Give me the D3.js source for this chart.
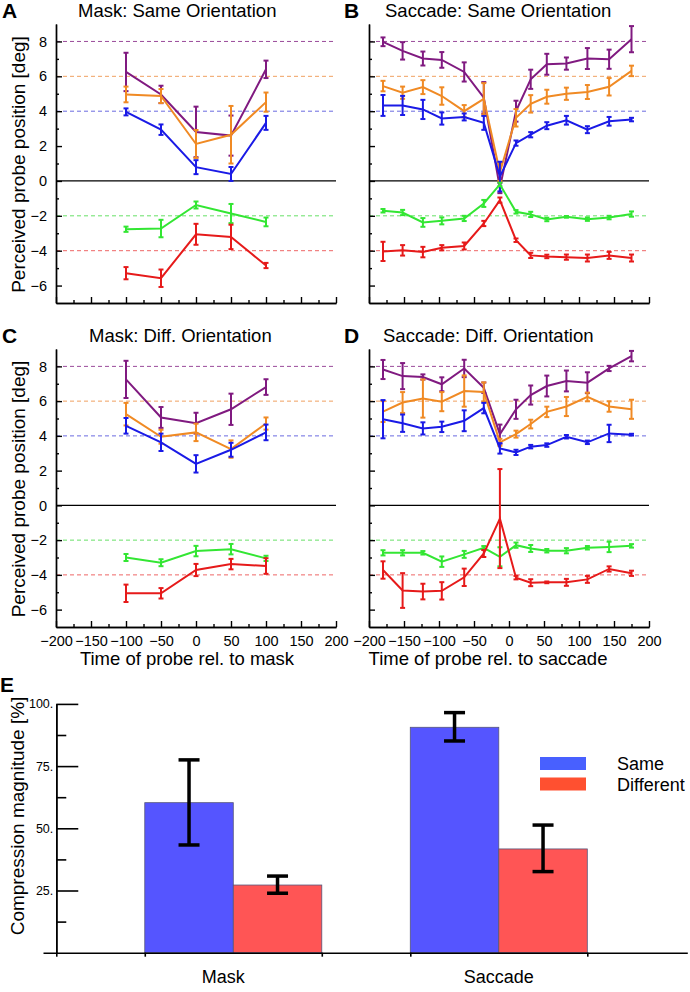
<!DOCTYPE html>
<html>
<head>
<meta charset="utf-8">
<script src="https://cdn.jsdelivr.net/npm/d3@7"></script>
<style>
body { margin: 0; background: #fff; }
svg { font-family: "Liberation Sans", Arial, Helvetica, sans-serif; }
</style>
</head>
<body>
<script>

// probe times (ms)
var maskTimes = [-100, -50, 0, 50, 100];
var saccTimes = [-180, -152, -123, -96, -64, -36, -13, 10, 31, 54, 82, 112, 143, 175];

// probe targets: purple, orange, blue, green, red
var probeTargets = [8, 6, 4, -2, -4];
var lineColors = ["#801a80", "#f08a24", "#1a1ae6", "#33e633", "#e61a1a"];
var dashColors = ["#9a4a9a", "#f0a060", "#6a6ae0", "#66e066", "#ee6666"];

// A: mask, same orientation
var maskSameMean = [
  [6.25, 4.96, 2.81, 2.6, 6.4],
  [4.96, 4.87, 2.12, 2.65, 4.52],
  [3.96, 2.94, 0.79, 0.4, 3.33],
  [-2.77, -2.73, -1.38, -1.87, -2.35],
  [-5.29, -5.58, -3.06, -3.21, -4.85]
];
var maskSameErr = [
  [1.1, 0.5, 1.45, 1.15, 0.5],
  [0.45, 0.4, 0.8, 1.65, 0.55],
  [0.2, 0.3, 0.4, 0.4, 0.4],
  [0.15, 0.5, 0.2, 0.55, 0.25],
  [0.35, 0.5, 0.6, 0.7, 0.15]
];

// B: saccade, same orientation
var saccSameMean = [
  [7.98, 7.46, 7.02, 6.94, 6.25, 4.77, -0.4, 4.0, 5.83, 6.69, 6.73, 7.02, 6.98, 8.13],
  [5.44, 5.06, 5.38, 4.87, 4.0, 4.71, 0.5, 3.62, 4.42, 4.83, 5.0, 5.1, 5.4, 6.31],
  [4.33, 4.33, 4.1, 3.58, 3.67, 3.33, 0.25, 2.17, 2.65, 3.17, 3.48, 2.94, 3.42, 3.52],
  [-1.71, -1.81, -2.38, -2.29, -2.15, -1.29, -0.2, -1.77, -1.92, -2.21, -2.06, -2.19, -2.1, -1.9],
  [-4.04, -3.98, -4.08, -3.83, -3.73, -2.44, -1.1, -3.4, -4.27, -4.33, -4.37, -4.42, -4.27, -4.42]
];
var saccSameErr = [
  [0.25, 0.5, 0.4, 0.45, 0.55, 0.9, 0.3, 0.6, 0.55, 0.6, 0.35, 0.6, 0.55, 0.75],
  [0.3, 0.35, 0.4, 0.5, 0.35, 0.9, 0.5, 0.5, 0.5, 0.4, 0.35, 0.4, 0.5, 0.3],
  [0.6, 0.55, 0.55, 0.35, 0.2, 0.4, 0.85, 0.15, 0.15, 0.2, 0.25, 0.2, 0.25, 0.1],
  [0.1, 0.15, 0.25, 0.2, 0.15, 0.2, 0.1, 0.1, 0.15, 0.1, 0.05, 0.1, 0.1, 0.15],
  [0.55, 0.3, 0.3, 0.15, 0.2, 0.15, 0.15, 0.1, 0.15, 0.1, 0.15, 0.2, 0.2, 0.2]
];

// C: mask, different orientation
var maskDiffMean = [
  [7.25, 5.06, 4.73, 5.53, 6.81],
  [5.25, 3.95, 4.2, 3.24, 4.71],
  [4.58, 3.63, 2.39, 3.2, 4.2],
  [-3.0, -3.3, -2.63, -2.52, -3.05],
  [-5.06, -5.06, -3.72, -3.38, -3.49]
];
var maskDiffErr = [
  [1.07, 0.6, 0.6, 0.9, 0.45],
  [0.65, 0.4, 0.5, 0.5, 0.35],
  [0.45, 0.5, 0.5, 0.4, 0.45],
  [0.2, 0.2, 0.3, 0.3, 0.15],
  [0.5, 0.3, 0.35, 0.3, 0.45]
];

// D: saccade, different orientation
var saccDiffMean = [
  [7.82, 7.44, 7.39, 6.97, 7.88, 6.77, 4.1, 5.53, 6.35, 6.87, 7.16, 7.06, 7.88, 8.59],
  [5.4, 5.92, 6.15, 5.97, 6.58, 6.53, 3.63, 4.1, 4.68, 5.38, 5.69, 6.24, 5.69, 5.53],
  [4.96, 4.73, 4.43, 4.52, 4.87, 5.6, 3.28, 3.05, 3.38, 3.47, 3.95, 3.63, 4.14, 4.07],
  [-2.73, -2.73, -2.73, -3.24, -2.82, -2.44, -2.96, -2.29, -2.48, -2.61, -2.61, -2.44, -2.39, -2.33],
  [-3.72, -4.9, -4.96, -4.92, -4.14, -2.77, -0.76, -4.16, -4.45, -4.43, -4.43, -4.26, -3.66, -3.91]
];
var saccDiffErr = [
  [0.55, 0.75, 0.15, 0.4, 0.5, 0.3, 0.55, 0.55, 0.55, 0.6, 0.6, 0.6, 0.15, 0.3],
  [0.6, 0.6, 1.1, 0.55, 0.9, 0.55, 0.2, 0.2, 0.25, 0.3, 0.55, 0.25, 0.3, 0.55],
  [1.1, 0.5, 0.35, 0.3, 0.6, 0.3, 0.3, 0.15, 0.1, 0.1, 0.1, 0.1, 0.5, 0.05],
  [0.15, 0.15, 0.1, 0.3, 0.2, 0.1, 0.55, 0.15, 0.2, 0.1, 0.15, 0.1, 0.3, 0.1],
  [0.5, 1.0, 0.45, 0.5, 0.5, 0.2, 2.85, 0.1, 0.2, 0.05, 0.2, 0.2, 0.15, 0.15]
];

// E: compression magnitude
var groups = ["Mask", "Saccade"];
var sameVals = [60.3, 90.6];
var sameLo = [43.3, 85.1];
var sameHi = [77.5, 96.5];
var diffVals = [27.2, 41.7];
var diffLo = [23.9, 32.6];
var diffHi = [30.8, 51.3];

var w = 690;
var h = 992;

var svg = d3.select("body")
  .append("svg")
  .attr("width", w)
  .attr("height", h);

function drawPanel(p) {
  var x = d3.scaleLinear().domain([-200, 200]).range([p.left, p.right]);
  var y = d3.scaleLinear().domain([-7, 9]).range([p.bottom, p.top]);
  var g = svg.append("g");

  // dashed target lines
  g.selectAll(null)
    .data(probeTargets)
    .enter()
    .append("line")
    .attr("x1", p.left).attr("x2", p.right)
    .attr("y1", function(d) { return y(d); })
    .attr("y2", function(d) { return y(d); })
    .attr("stroke", function(d, i) { return dashColors[i]; })
    .attr("stroke-width", 1)
    .attr("stroke-dasharray", "4,3");

  // zero line
  g.append("line")
    .attr("x1", p.left).attr("x2", p.right)
    .attr("y1", y(0)).attr("y2", y(0))
    .attr("stroke", "#000").attr("stroke-width", 1.2);

  var line = d3.line()
    .x(function(d, i) { return x(p.times[i]); })
    .y(function(d) { return y(d); });

  p.means.forEach(function(m, k) {
    g.append("path")
      .datum(m)
      .attr("d", line)
      .attr("fill", "none")
      .attr("stroke", lineColors[k])
      .attr("stroke-width", 2);

    var eb = g.append("g").attr("stroke", lineColors[k]).attr("stroke-width", 2);
    m.forEach(function(v, i) {
      var e = p.errs[k][i];
      var cx = x(p.times[i]);
      eb.append("line").attr("x1", cx).attr("x2", cx).attr("y1", y(v - e)).attr("y2", y(v + e));
      eb.append("line").attr("x1", cx - 2.5).attr("x2", cx + 2.5).attr("y1", y(v - e)).attr("y2", y(v - e));
      eb.append("line").attr("x1", cx - 2.5).attr("x2", cx + 2.5).attr("y1", y(v + e)).attr("y2", y(v + e));
    });
  });

  // axes
  var yAxis = d3.axisLeft(y)
    .tickValues([-6, -4, -2, 0, 2, 4, 6, 8])
    .tickSizeInner(-6).tickSizeOuter(0).tickPadding(9)
    .tickFormat(p.yLabels ? d3.format("d") : "");
  var yMinor = d3.axisLeft(y)
    .tickValues([-5, -3, -1, 1, 3, 5, 7])
    .tickSizeInner(-3).tickSizeOuter(0).tickFormat("");
  var xAxis = d3.axisBottom(x)
    .tickValues([-200, -150, -100, -50, 0, 50, 100, 150, 200])
    .tickSizeInner(-6).tickSizeOuter(0).tickPadding(9)
    .tickFormat(p.xLabels ? d3.format("d") : "");
  var xMinor = d3.axisBottom(x)
    .tickValues([-175, -125, -75, -25, 25, 75, 125, 175])
    .tickSizeInner(-3).tickSizeOuter(0).tickFormat("");

  [[yAxis, "left"], [yMinor, "left"], [xAxis, "bottom"], [xMinor, "bottom"]].forEach(function(a) {
    var ag = g.append("g")
      .attr("transform", a[1] == "left" ? "translate(" + p.left + ",0)" : "translate(0," + p.bottom + ")")
      .call(a[0]);
    ag.selectAll("path, line").attr("stroke", "#000").attr("stroke-width", 1.4);
    ag.selectAll("text").attr("font-size", 14.5).attr("font-family", null).attr("fill", "#000");
    ag.attr("font-family", null);
  });

  // titles
  g.append("text")
    .attr("x", p.titleX).attr("y", p.top - 7)
    .attr("font-size", 18.5)
    .text(p.title);
  g.append("text")
    .attr("x", p.letterX).attr("y", p.top - 6)
    .attr("font-size", 21).attr("font-weight", "bold")
    .text(p.letter);

  if (p.yTitle) {
    g.append("text")
      .attr("transform", "translate(25," + ((p.top + p.bottom) / 2 + 1) + ") rotate(-90)")
      .attr("text-anchor", "middle")
      .attr("font-size", 19)
      .text("Perceived probe position [deg]");
  }
  if (p.xTitle) {
    g.append("text")
      .attr("x", p.xTitleX).attr("y", p.bottom + 38)
      .attr("text-anchor", "middle")
      .attr("font-size", 18.5)
      .text(p.xTitle);
  }
}

drawPanel({ left: 56, right: 336, top: 24, bottom: 303, times: maskTimes,
  means: maskSameMean, errs: maskSameErr, yLabels: true, xLabels: false,
  title: "Mask: Same Orientation", titleX: 78, letter: "A", letterX: 2, yTitle: true });
drawPanel({ left: 369, right: 649, top: 24, bottom: 303, times: saccTimes,
  means: saccSameMean, errs: saccSameErr, yLabels: false, xLabels: false,
  title: "Saccade: Same Orientation", titleX: 385, letter: "B", letterX: 344 });
drawPanel({ left: 56, right: 336, top: 349, bottom: 627, times: maskTimes,
  means: maskDiffMean, errs: maskDiffErr, yLabels: true, xLabels: true,
  title: "Mask: Diff. Orientation", titleX: 89, letter: "C", letterX: 2, yTitle: true,
  xTitle: "Time of probe rel. to mask", xTitleX: 187 });
drawPanel({ left: 369, right: 649, top: 349, bottom: 627, times: saccTimes,
  means: saccDiffMean, errs: saccDiffErr, yLabels: false, xLabels: true,
  title: "Saccade: Diff. Orientation", titleX: 383, letter: "D", letterX: 344,
  xTitle: "Time of probe rel. to saccade", xTitleX: 488 });

// panel E: bars
var xE = d3.scaleLinear().domain([-0.15, 7.13]).range([43, 687.3]);
var yE = d3.scaleLinear().domain([0, 100]).range([952.7, 703.9]);
var eg = svg.append("g");

var bars = [];
groups.forEach(function(gname, i) {
  var base = 1 + i * 3;
  bars.push({ x0: base, v: sameVals[i], lo: sameLo[i], hi: sameHi[i], fill: "#5555ff" });
  bars.push({ x0: base + 1, v: diffVals[i], lo: diffLo[i], hi: diffHi[i], fill: "#ff5555" });
});

eg.selectAll("rect.bar")
  .data(bars)
  .enter()
  .append("rect")
  .attr("class", "bar")
  .attr("x", function(d) { return xE(d.x0); })
  .attr("width", function(d) { return xE(d.x0 + 1) - xE(d.x0); })
  .attr("y", function(d) { return yE(d.v); })
  .attr("height", function(d) { return yE(0) - yE(d.v); })
  .attr("fill", function(d) { return d.fill; })
  .attr("stroke", "#55557a")
  .attr("stroke-width", 0.8);

var errG = eg.append("g").attr("stroke", "#000").attr("stroke-width", 3.5);
bars.forEach(function(d) {
  var cx = xE(d.x0 + 0.5);
  errG.append("line").attr("x1", cx).attr("x2", cx).attr("y1", yE(d.lo)).attr("y2", yE(d.hi));
  errG.append("line").attr("x1", cx - 10.5).attr("x2", cx + 10.5).attr("y1", yE(d.lo)).attr("y2", yE(d.lo));
  errG.append("line").attr("x1", cx - 10.5).attr("x2", cx + 10.5).attr("y1", yE(d.hi)).attr("y2", yE(d.hi));
});

// E axes
var yAxisE = d3.axisLeft(yE)
  .tickValues([25, 50, 75, 100])
  .tickSizeInner(-22).tickSizeOuter(0).tickPadding(3)
  .tickFormat(function(d) { return d + "."; });
var yMinorE = d3.axisLeft(yE)
  .tickValues([12.5, 37.5, 62.5, 87.5])
  .tickSizeInner(-10).tickSizeOuter(0).tickFormat("");
var xAxisE = d3.axisBottom(xE)
  .tickValues([0, 1, 3, 4, 6])
  .tickSizeInner(4).tickSizeOuter(0).tickFormat("");

[[yAxisE, "translate(" + xE(0) + ",0)"], [yMinorE, "translate(" + xE(0) + ",0)"], [xAxisE, "translate(0," + yE(0) + ")"]].forEach(function(a) {
  var ag = eg.append("g").attr("transform", a[1]).call(a[0]);
  ag.attr("font-family", null);
  ag.selectAll("path, line").attr("stroke", "#000").attr("stroke-width", 1.6);
  ag.selectAll("text").attr("font-size", 12.5).attr("fill", "#000");
});

// category labels (Mask label sits a bit left of its group in the original)
eg.selectAll("text.cat")
  .data(groups)
  .enter()
  .append("text")
  .attr("class", "cat")
  .attr("x", function(d, i) { return xE(2 + i * 3) - (i == 0 ? 10 : 0); })
  .attr("y", 983)
  .attr("text-anchor", "middle")
  .attr("font-size", 18)
  .text(function(d) { return d; });

eg.append("text")
  .attr("transform", "translate(24,816) rotate(-90)")
  .attr("text-anchor", "middle")
  .attr("font-size", 19)
  .text("Compression magnitude [%]");

eg.append("text")
  .attr("x", 0).attr("y", 692)
  .attr("font-size", 21).attr("font-weight", "bold")
  .text("E");

// legend
var legendNames = ["Same", "Different"];
var legendColors = ["#4860ff", "#ff5030"];
legendNames.forEach(function(name, i) {
  eg.append("rect")
    .attr("x", 540).attr("y", 757 + i * 20.5)
    .attr("width", 46).attr("height", 13)
    .attr("fill", legendColors[i]);
  eg.append("text")
    .attr("x", 617).attr("y", 770 + i * 20.5)
    .attr("font-size", 18)
    .text(name);
});

</script>
</body>
</html>
